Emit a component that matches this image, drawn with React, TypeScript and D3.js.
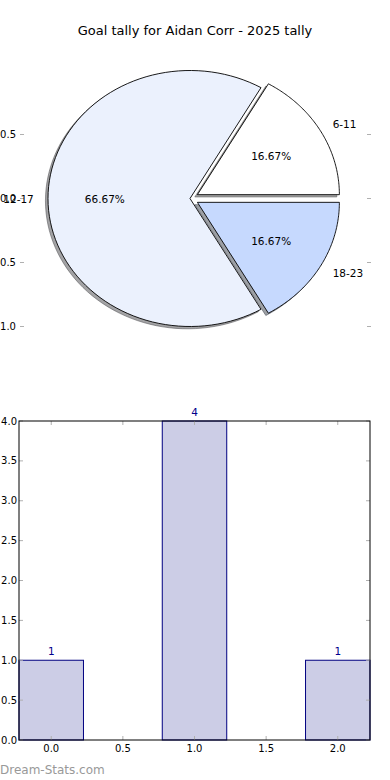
import React from "react";
import * as d3 from "d3";

const title = "Goal tally for Aidan Corr - 2025 tally";
const pieLabels = ["6-11", "12-17", "18-23"];
const pieValues = [1, 4, 1];
const pieExplode = [0.06, 0, 0.06];
const pieColors = ["#ffffff", "#ebf1fd", "#c6d9fe"];
const pieYTicks = [0.5, 0, -0.5, -1.0];

const barCats = [0, 1, 2];
const barValues = [1, 4, 1];
const barXTicks = [0, 0.5, 1, 1.5, 2];
const barYTicks = [0, 0.5, 1, 1.5, 2, 2.5, 3, 3.5, 4];

const W = 390;
const H = 780;
const FONT = "DejaVu Sans, sans-serif";

export default function App() {
  // pie scales (data units -> pixels)
  const px = d3.scaleLinear().domain([0, 1]).range([190, 332]);
  const py = d3.scaleLinear().domain([0, 1]).range([198.5, 70.5]);
  const pieGen = d3.pie<number>().sort(null).startAngle(0).endAngle(2 * Math.PI);
  const arcs = pieGen(pieValues);
  const total = d3.sum(pieValues);
  const line = d3.line<[number, number]>().x((d) => px(d[0])).y((d) => py(d[1]));

  const wedges = arcs.map((a, i) => {
    const t0 = a.startAngle;
    const t1 = a.endAngle;
    const mid = (t0 + t1) / 2;
    const ox = pieExplode[i] * Math.cos(mid);
    const oy = pieExplode[i] * Math.sin(mid);
    const n = 90;
    const pts: [number, number][] = [[ox, oy]];
    for (let k = 0; k <= n; k++) {
      const t = t0 + ((t1 - t0) * k) / n;
      pts.push([ox + Math.cos(t), oy + Math.sin(t)]);
    }
    pts.push([ox, oy]);
    return { pts, mid, ox, oy, i, frac: pieValues[i] / total };
  });

  const shadowPath = (pts: [number, number][]) =>
    line(pts.map((p) => [p[0] - 0.018, p[1] - 0.018] as [number, number])) + "Z";

  const shade = (c: string) => {
    const r = d3.rgb(c);
    return d3.rgb(r.r * 0.3, r.g * 0.3, r.b * 0.3).toString();
  };

  // bar scales
  const bx = d3.scaleLinear().domain([-0.225, 2.225]).range([19, 370]);
  const by = d3.scaleLinear().domain([0, 4]).range([740, 421]);
  const barW = 0.45;

  const tickColor = "#b0b0b0";

  return (
    <svg
      width={W}
      height={H}
      style={{ position: "absolute", left: 0, top: 0, display: "block", background: "#fff" }}
      fontFamily={FONT}
    >
      <rect x={0} y={0} width={W} height={H} fill="#fff" />
      <text x={195} y={30} textAnchor="middle" dominantBaseline="central" fontSize={13} fill="#000">
        {title}
      </text>

      {/* pie y ticks */}
      {pieYTicks.map((t) => (
        <g key={"pyt" + t}>
          <line x1={20} x2={24} y1={py(t)} y2={py(t)} stroke={tickColor} />
          <line x1={367} x2={371} y1={py(t)} y2={py(t)} stroke={tickColor} />
          <text x={16} y={py(t)} textAnchor="end" dominantBaseline="central" fontSize={10} fill="#000">
            {t.toFixed(1).replace("-", "\u2212")}
          </text>
        </g>
      ))}

      {/* shadows */}
      {wedges.map((w) => (
        <path
          key={"sh" + w.i}
          d={shadowPath(w.pts)}
          fill={shade(pieColors[w.i])}
          fillOpacity={0.5}
          stroke={shade(pieColors[w.i])}
          strokeOpacity={0.5}
        />
      ))}
      {/* wedges */}
      {wedges.map((w) => (
        <path
          key={"w" + w.i}
          d={line(w.pts) + "Z"}
          fill={pieColors[w.i]}
          stroke="#000"
          strokeWidth={0.9}
          strokeLinejoin="miter"
        />
      ))}
      {/* labels */}
      {wedges.map((w) => {
        const lx = w.ox + 1.1 * Math.cos(w.mid);
        const ly = w.oy + 1.1 * Math.sin(w.mid);
        const qx = w.ox + 0.6 * Math.cos(w.mid);
        const qy = w.oy + 0.6 * Math.sin(w.mid);
        return (
          <g key={"lb" + w.i}>
            <text
              x={px(lx)}
              y={py(ly)}
              textAnchor={lx > 0 ? "start" : "end"}
              dominantBaseline="central"
              fontSize={10.5}
              fill="#000"
            >
              {pieLabels[w.i]}
            </text>
            <text x={px(qx)} y={py(qy)} textAnchor="middle" dominantBaseline="central" fontSize={10.5} fill="#000">
              {(w.frac * 100).toFixed(2) + "%"}
            </text>
          </g>
        );
      })}

      {/* bar chart */}
      {barCats.map((c, i) => (
        <rect
          key={"bar" + i}
          x={bx(c - barW / 2)}
          y={by(barValues[i])}
          width={bx(c + barW / 2) - bx(c - barW / 2)}
          height={by(0) - by(barValues[i])}
          fill="#cccde6"
          stroke="#000080"
          strokeWidth={1}
        />
      ))}
      {barCats.map((c, i) => (
        <text
          key={"bv" + i}
          x={bx(c)}
          y={by(barValues[i]) - 9}
          textAnchor="middle"
          dominantBaseline="central"
          fontSize={10.5}
          fill="#00008b"
        >
          {barValues[i]}
        </text>
      ))}
      {barXTicks.map((t) => (
        <g key={"bxt" + t}>
          <line x1={bx(t)} x2={bx(t)} y1={740} y2={736} stroke={tickColor} />
          <line x1={bx(t)} x2={bx(t)} y1={421} y2={425} stroke={tickColor} />
          <text x={bx(t)} y={748} textAnchor="middle" dominantBaseline="central" fontSize={10} fill="#000">
            {t.toFixed(1)}
          </text>
        </g>
      ))}
      {barYTicks.map((t) => (
        <g key={"byt" + t}>
          <line x1={19} x2={23} y1={by(t)} y2={by(t)} stroke={tickColor} />
          <line x1={370} x2={366} y1={by(t)} y2={by(t)} stroke={tickColor} />
          <text x={17} y={by(t)} textAnchor="end" dominantBaseline="central" fontSize={10} fill="#000">
            {t.toFixed(1)}
          </text>
        </g>
      ))}
      <rect x={19} y={421} width={351} height={319} fill="none" stroke="#000" strokeWidth={1} />

      <text x={0} y={770} dominantBaseline="central" fontSize={12} fill="#999">
        Dream-Stats.com
      </text>
    </svg>
  );
}
